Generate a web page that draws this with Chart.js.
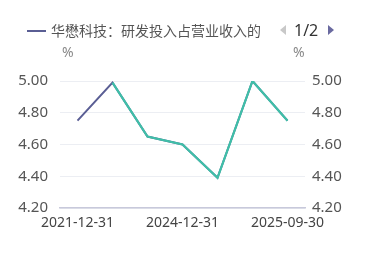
<!DOCTYPE html>
<html><head><meta charset="utf-8">
<script src="https://cdn.jsdelivr.net/npm/chart.js@4"></script>
<style>
html,body{margin:0;padding:0;background:#fff;}
#wrap{position:relative;width:369px;height:276px;overflow:hidden;font-family:"Noto Sans CJK SC","Noto Sans",sans-serif;}
canvas{position:absolute;left:0;top:0;}
.lg{position:absolute;left:27px;top:30px;width:19px;height:2px;background:#5a5e94;}
.lt{position:absolute;left:51px;top:20px;font-size:14px;color:#555;white-space:nowrap;line-height:20px;}
.pg{position:absolute;left:294px;top:19px;font-size:16px;color:#333;line-height:22px;font-family:"Noto Sans",sans-serif;}
.al{position:absolute;left:280px;top:25px;width:0;height:0;border-top:5px solid transparent;border-bottom:5px solid transparent;border-right:6px solid #c8c8c8;}
.ar{position:absolute;left:328px;top:25px;width:0;height:0;border-top:5px solid transparent;border-bottom:5px solid transparent;border-left:6px solid #6a6aa0;}
.pc{position:absolute;top:43px;font-size:14px;color:#888;line-height:18px;font-family:"Noto Sans",sans-serif;}
</style></head>
<body><div id="wrap">
<canvas id="c" width="369" height="276"></canvas>
<div class="lg"></div><div class="lt">华懋科技：研发投入占营业收入的</div>
<div class="al"></div><div class="pg">1/2</div><div class="ar"></div>
<div class="pc" style="left:62px">%</div><div class="pc" style="left:293px">%</div>
</div>
<script>
const categories = ["2021-12-31","2022-12-31","2023-12-31","2024-12-31","2025-03-31","2025-06-30","2025-09-30"];
const series1 = [4.75, 4.99, 4.65, 4.60, 4.39, 5.00, 4.75];
const series2 = [null, 4.99, 4.65, 4.60, 4.39, 5.00, 4.75];
const shownXLabels = ["2021-12-31","2024-12-31","2025-09-30"];
const yTicks = [4.2, 4.4, 4.6, 4.8, 5.0];

const tickFont = {family:"'Noto Sans', sans-serif", size:14};
new Chart(document.getElementById('c'), {
  type:'line',
  data:{labels:categories, datasets:[
    {label:'华懋科技：研发投入占营业收入的比例', data:series1, borderColor:'#5a5e94', borderWidth:2, pointRadius:0, tension:0, yAxisID:'y', order:2},
    {label:'系列2', data:series2, borderColor:'#3fbfa8', borderWidth:2.2, pointRadius:0, tension:0, yAxisID:'y', order:1}
  ]},
  options:{
    responsive:false, animation:false,
    layout:{padding:{top:81,bottom:0,left:0,right:0}},
    plugins:{legend:{display:false}, tooltip:{enabled:false}},
    scales:{
      x:{offset:true, grid:{display:false}, border:{color:'#c8c9db', width:1.5},
         ticks:{autoSkip:false, maxRotation:0, color:'#444', font:tickFont, padding:-1,
           callback:function(v,i){const l=categories[i];return shownXLabels.includes(l)?l:'';}},
         afterFit:function(s){s.height=68;}},
      y:{position:'left', min:4.2, max:5.0, grid:{color:'#eceef3', drawTicks:false}, border:{display:false},
         afterBuildTicks:function(s){s.ticks=yTicks.map(v=>({value:v}));},
         ticks:{color:'#555', font:{family:"'Noto Sans', sans-serif", size:15}, padding:12, callback:v=>v.toFixed(2)},
         afterFit:function(s){s.width=60;}},
      y2:{position:'right', min:4.2, max:5.0, grid:{display:false, drawTicks:false}, border:{display:false},
         afterBuildTicks:function(s){s.ticks=yTicks.map(v=>({value:v}));},
         ticks:{color:'#555', font:{family:"'Noto Sans', sans-serif", size:15}, padding:7, callback:v=>v.toFixed(2)},
         afterFit:function(s){s.width=64;}}
    }
  }
});
</script>
</body></html>
